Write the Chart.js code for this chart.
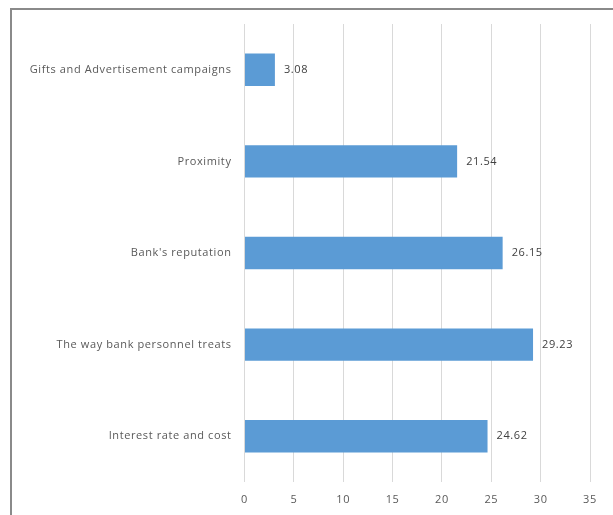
<!DOCTYPE html>
<html>
<head>
<meta charset="utf-8">
<script src="https://cdn.jsdelivr.net/npm/chart.js@4.4.1/dist/chart.umd.min.js"></script>
<style>
  html, body { margin: 0; padding: 0; background: #fff; overflow: hidden; }
  #wrap { position: relative; width: 613px; height: 515px; }
  #frame { position: absolute; left: 10px; top: 8px; width: 800px; height: 700px;
           border-left: 2px solid #8a8a8a; border-top: 2px solid #8a8a8a; box-sizing: border-box; }
  canvas { position: absolute; left: 0; top: 0; }
</style>
</head>
<body>
<div id="wrap">
  <div id="frame"></div>
  <canvas id="c" width="613" height="515"></canvas>
</div>
<script>
// Reasons for choosing a bank (% of respondents)
const categories = [
  "Gifts and Advertisement campaigns",
  "Proximity",
  "Bank's reputation",
  "The way bank personnel treats",
  "Interest rate and cost"
];
const values = [3.08, 21.54, 26.15, 29.23, 24.62];
const xTicks = [0, 5, 10, 15, 20, 25, 30, 35];

const FONT = "'Open Sans', 'Liberation Sans', sans-serif";
const SPACING = '0.6px';

// Slightly looser lettering for every piece of text on the canvas
const loosen = {
  id: 'loosen',
  beforeLayout(chart) { chart.ctx.letterSpacing = SPACING; },
  beforeDraw(chart) { chart.ctx.letterSpacing = SPACING; }
};

// Writes each bar's value just past its end
const valueLabels = {
  id: 'valueLabels',
  afterDatasetsDraw(chart) {
    const ctx = chart.ctx;
    const meta = chart.getDatasetMeta(0);
    ctx.save();
    ctx.font = "11px " + FONT;
    ctx.fillStyle = "#404040";
    ctx.textAlign = "left";
    ctx.textBaseline = "middle";
    meta.data.forEach((bar, i) => {
      ctx.fillText(values[i].toFixed(2), bar.x + 9, bar.y);
    });
    ctx.restore();
  }
};

new Chart(document.getElementById('c'), {
  type: 'bar',
  data: {
    labels: categories,
    datasets: [{
      data: values,
      backgroundColor: '#5B9BD5',
      borderWidth: 0,
      barPercentage: 0.354,
      categoryPercentage: 1.0
    }]
  },
  options: {
    indexAxis: 'y',
    responsive: false,
    animation: false,
    events: [],
    layout: { padding: { left: 0, right: 23, top: 24, bottom: 0 } },
    plugins: { legend: { display: false }, tooltip: { enabled: false } },
    scales: {
      x: {
        min: 0, max: 35,
        afterBuildTicks(scale) { scale.ticks = xTicks.map(v => ({ value: v })); },
        afterFit(scale) { scale.height = 33; },
        grid: { color: '#d9d9d9', lineWidth: 1, drawTicks: false },
        border: { display: false },
        ticks: { color: '#595959', padding: 11, font: { family: FONT, size: 11 } }
      },
      y: {
        afterFit(scale) { scale.width = 244.5; },
        grid: { display: false, drawTicks: false },
        border: { display: false },
        ticks: { color: '#595959', padding: 13, font: { family: FONT, size: 11 } }
      }
    }
  },
  plugins: [loosen, valueLabels]
});
</script>
</body>
</html>
